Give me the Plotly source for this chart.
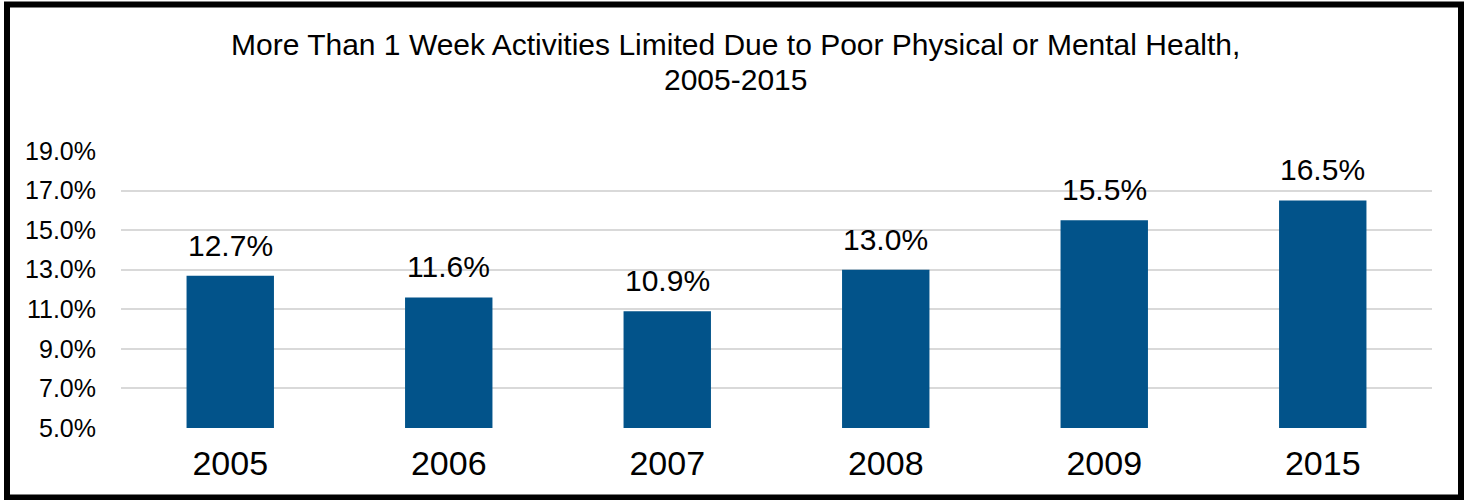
import plotly.graph_objects as go

years = ["2005", "2006", "2007", "2008", "2009", "2015"]
values = [12.7, 11.6, 10.9, 13.0, 15.5, 16.5]
y_ticks = [5, 7, 9, 11, 13, 15, 17, 19]
y_tick_labels = ["5.0%", "7.0%", "9.0%", "11.0%", "13.0%", "15.0%", "17.0%", "19.0%"]
title_lines = ["More Than 1 Week Activities Limited Due to Poor Physical or Mental Health,",
               "2005-2015"]

W, H = 1470, 500
ML, MR, MT, MB = 121, 38, 151, 72
PW = W - ML - MR
PH = H - MT - MB

FONT = "Liberation Sans, Arial, sans-serif"

fig = go.Figure()
fig.add_trace(go.Bar(
    x=years, y=[v - 5 for v in values], base=5,
    marker=dict(color="#02538A", line=dict(width=0)),
    hoverinfo="skip",
))

for i, v in enumerate(values):
    fig.add_annotation(
        x=i, y=v, xref="x", yref="y", text=f"{v:.1f}%", showarrow=False,
        yanchor="bottom", yshift=12,
        font=dict(family=FONT, size=30, color="black"),
    )

def px_x(p):
    return (p - ML) / PW

def px_y(p):
    return (H - MB - p) / PH

# title lines
for line, cy in zip(title_lines, [45, 80]):
    fig.add_annotation(
        x=px_x(W / 2), y=px_y(cy), xref="paper", yref="paper",
        text=line, showarrow=False, xanchor="center", yanchor="middle",
        font=dict(family=FONT, size=30, color="black"),
    )

fig.add_shape(
    type="rect", xref="paper", yref="paper",
    x0=px_x(7), x1=px_x(1461), y0=px_y(497.5), y1=px_y(4.5),
    line=dict(color="black", width=6), fillcolor="rgba(0,0,0,0)",
    layer="above",
)

fig.update_layout(
    width=W, height=H,
    margin=dict(l=ML, r=MR, t=MT, b=MB, pad=0),
    paper_bgcolor="white", plot_bgcolor="white",
    showlegend=False,
    bargap=0.6,
    font=dict(family=FONT, color="black"),
    xaxis=dict(
        type="category", range=[-0.5, len(years) - 0.5],
        showgrid=False, zeroline=False, showline=False,
        ticks="", tickfont=dict(family=FONT, size=34, color="black"),
        ticklabelstandoff=12,
    ),
    yaxis=dict(
        range=[5, 19], tickvals=y_ticks, ticktext=y_tick_labels,
        showgrid=True, gridcolor="#D9D9D9", gridwidth=2,
        zeroline=False, showline=False, ticks="",
        tickfont=dict(family=FONT, size=25, color="black"),
        ticklabelstandoff=24,
    ),
)

fig.write_html("out.html")
